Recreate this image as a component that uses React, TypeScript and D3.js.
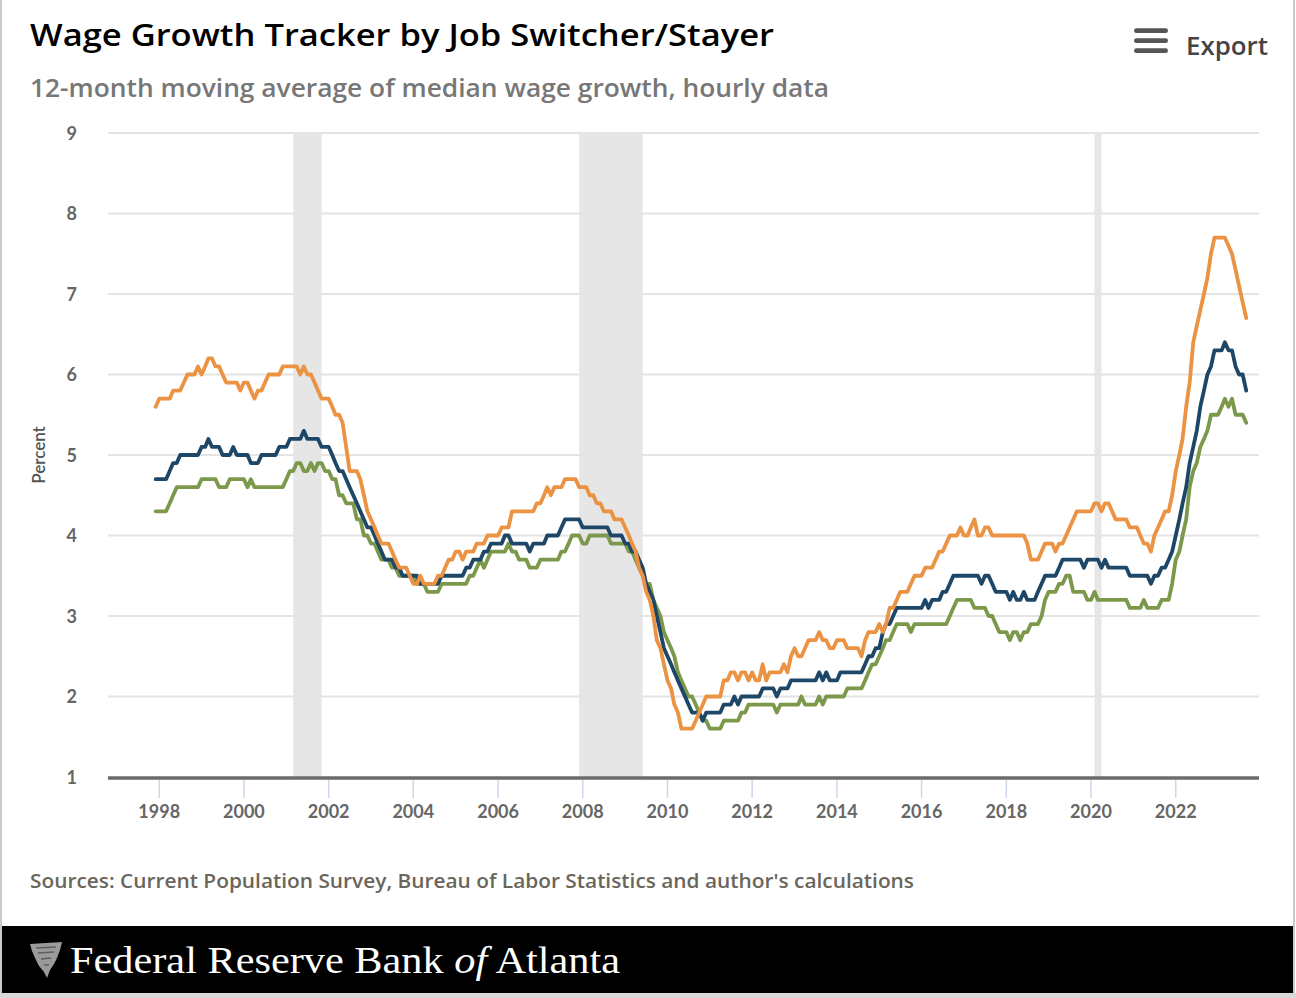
import React from "react";
import * as d3 from "d3";

// Monthly series, first value = Dec 1997, last = Sep 2023
const switchers: number[] = [
  5.6,
  5.7,5.7,5.7,5.7,5.8,5.8,5.8,5.9,6.0,6.0,6.0,6.1,
  6.0,6.1,6.2,6.2,6.1,6.1,6.0,5.9,5.9,5.9,5.9,5.8,
  5.9,5.9,5.8,5.7,5.8,5.8,5.9,6.0,6.0,6.0,6.0,6.1,
  6.1,6.1,6.1,6.1,6.0,6.1,6.0,6.0,5.9,5.8,5.7,5.7,
  5.7,5.6,5.5,5.5,5.4,5.1,4.8,4.8,4.8,4.7,4.5,4.3,
  4.2,4.1,4.0,3.9,3.9,3.9,3.8,3.7,3.6,3.6,3.6,3.5,
  3.4,3.4,3.5,3.4,3.4,3.4,3.4,3.5,3.5,3.6,3.7,3.7,
  3.8,3.8,3.7,3.8,3.8,3.8,3.9,3.9,3.9,4.0,4.0,4.0,
  4.0,4.1,4.1,4.1,4.3,4.3,4.3,4.3,4.3,4.3,4.3,4.4,
  4.4,4.5,4.6,4.5,4.6,4.6,4.6,4.7,4.7,4.7,4.7,4.6,
  4.6,4.6,4.5,4.5,4.4,4.4,4.3,4.3,4.3,4.2,4.2,4.2,
  4.1,4.0,3.9,3.8,3.6,3.5,3.3,3.2,3.0,2.7,2.6,2.4,
  2.2,2.1,1.9,1.8,1.6,1.6,1.6,1.6,1.7,1.8,1.9,2.0,
  2.0,2.0,2.0,2.0,2.2,2.2,2.3,2.3,2.2,2.3,2.3,2.2,
  2.3,2.2,2.2,2.4,2.2,2.3,2.3,2.3,2.3,2.4,2.3,2.5,
  2.6,2.5,2.5,2.6,2.7,2.7,2.7,2.8,2.7,2.7,2.6,2.6,
  2.7,2.7,2.7,2.6,2.6,2.6,2.6,2.5,2.7,2.8,2.8,2.8,
  2.9,2.8,2.9,3.1,3.1,3.2,3.3,3.3,3.3,3.4,3.5,3.5,
  3.5,3.6,3.6,3.6,3.7,3.8,3.8,3.9,4.0,4.0,4.0,4.1,
  4.0,4.0,4.1,4.2,4.0,4.0,4.1,4.1,4.0,4.0,4.0,4.0,
  4.0,4.0,4.0,4.0,4.0,4.0,3.9,3.7,3.7,3.7,3.8,3.9,
  3.9,3.9,3.8,3.9,3.9,4.0,4.1,4.2,4.3,4.3,4.3,4.3,
  4.3,4.4,4.4,4.3,4.4,4.4,4.3,4.2,4.2,4.2,4.2,4.1,
  4.1,4.1,4.0,3.9,3.9,3.8,4.0,4.1,4.2,4.3,4.3,4.5,
  4.8,5.0,5.2,5.6,5.9,6.4,6.6,6.8,7.0,7.2,7.5,7.7,
  7.7,7.7,7.7,7.6,7.5,7.3,7.1,6.9,6.7,
];

const overall: number[] = [
  4.7,
  4.7,4.7,4.7,4.8,4.9,4.9,5.0,5.0,5.0,5.0,5.0,5.0,
  5.1,5.1,5.2,5.1,5.1,5.1,5.0,5.0,5.0,5.1,5.0,5.0,
  5.0,5.0,4.9,4.9,4.9,5.0,5.0,5.0,5.0,5.0,5.1,5.1,
  5.1,5.2,5.2,5.2,5.2,5.3,5.2,5.2,5.2,5.2,5.1,5.1,
  5.1,5.0,4.9,4.8,4.8,4.7,4.6,4.5,4.4,4.3,4.2,4.1,
  4.1,4.0,3.9,3.8,3.7,3.7,3.7,3.6,3.6,3.5,3.5,3.5,
  3.5,3.5,3.4,3.4,3.4,3.4,3.4,3.4,3.5,3.5,3.5,3.5,
  3.5,3.5,3.5,3.6,3.6,3.7,3.7,3.7,3.8,3.8,3.9,3.9,
  3.9,3.9,4.0,4.0,3.9,3.9,3.9,3.9,3.9,3.8,3.9,3.9,
  3.9,3.9,4.0,4.0,4.0,4.0,4.1,4.2,4.2,4.2,4.2,4.2,
  4.1,4.1,4.1,4.1,4.1,4.1,4.1,4.1,4.0,4.0,4.0,4.0,
  3.9,3.9,3.8,3.8,3.7,3.6,3.4,3.3,3.2,3.0,2.8,2.6,
  2.5,2.4,2.3,2.2,2.1,2.0,1.9,1.8,1.8,1.8,1.7,1.8,
  1.8,1.8,1.8,1.8,1.9,1.9,1.9,2.0,1.9,2.0,2.0,2.0,
  2.0,2.0,2.0,2.1,2.1,2.1,2.1,2.0,2.1,2.1,2.1,2.2,
  2.2,2.2,2.2,2.2,2.2,2.2,2.2,2.3,2.2,2.3,2.2,2.2,
  2.2,2.3,2.3,2.3,2.3,2.3,2.3,2.3,2.4,2.5,2.5,2.6,
  2.6,2.8,2.9,2.9,3.0,3.1,3.1,3.1,3.1,3.1,3.1,3.1,
  3.1,3.2,3.1,3.2,3.2,3.2,3.3,3.3,3.4,3.5,3.5,3.5,
  3.5,3.5,3.5,3.5,3.5,3.4,3.5,3.5,3.4,3.3,3.3,3.3,
  3.3,3.2,3.3,3.2,3.2,3.3,3.2,3.2,3.2,3.3,3.4,3.5,
  3.5,3.5,3.5,3.6,3.7,3.7,3.7,3.7,3.7,3.7,3.6,3.7,
  3.7,3.7,3.7,3.6,3.7,3.6,3.6,3.6,3.6,3.6,3.6,3.5,
  3.5,3.5,3.5,3.5,3.5,3.4,3.5,3.5,3.6,3.6,3.7,3.8,
  4.0,4.2,4.4,4.6,4.9,5.1,5.3,5.6,5.8,6.0,6.1,6.3,
  6.3,6.3,6.4,6.3,6.3,6.1,6.0,6.0,5.8,
];

const stayers: number[] = [
  4.3,
  4.3,4.3,4.3,4.4,4.5,4.6,4.6,4.6,4.6,4.6,4.6,4.6,
  4.7,4.7,4.7,4.7,4.7,4.6,4.6,4.6,4.7,4.7,4.7,4.7,
  4.7,4.6,4.7,4.6,4.6,4.6,4.6,4.6,4.6,4.6,4.6,4.6,
  4.7,4.8,4.8,4.9,4.9,4.8,4.8,4.9,4.8,4.9,4.9,4.8,
  4.8,4.7,4.7,4.5,4.5,4.4,4.4,4.4,4.2,4.2,4.0,4.0,
  3.9,3.9,3.8,3.7,3.7,3.7,3.6,3.6,3.5,3.5,3.5,3.5,
  3.5,3.4,3.4,3.4,3.3,3.3,3.3,3.3,3.4,3.4,3.4,3.4,
  3.4,3.4,3.4,3.4,3.5,3.5,3.6,3.7,3.6,3.7,3.8,3.8,
  3.8,3.8,3.8,3.9,3.8,3.8,3.7,3.7,3.7,3.6,3.6,3.6,
  3.7,3.7,3.7,3.7,3.7,3.7,3.8,3.8,3.9,4.0,4.0,4.0,
  3.9,3.9,4.0,4.0,4.0,4.0,4.0,4.0,3.9,3.9,3.9,3.9,
  3.9,3.8,3.8,3.7,3.6,3.5,3.4,3.4,3.2,3.1,3.0,2.8,
  2.7,2.6,2.5,2.3,2.2,2.1,2.0,2.0,1.9,1.8,1.7,1.7,
  1.6,1.6,1.6,1.6,1.7,1.7,1.7,1.7,1.7,1.8,1.8,1.9,
  1.9,1.9,1.9,1.9,1.9,1.9,1.9,1.8,1.9,1.9,1.9,1.9,
  1.9,1.9,2.0,1.9,1.9,1.9,1.9,2.0,1.9,2.0,2.0,2.0,
  2.0,2.0,2.0,2.1,2.1,2.1,2.1,2.1,2.2,2.3,2.4,2.4,
  2.5,2.6,2.7,2.7,2.8,2.9,2.9,2.9,2.9,2.8,2.9,2.9,
  2.9,2.9,2.9,2.9,2.9,2.9,2.9,2.9,3.0,3.1,3.2,3.2,
  3.2,3.2,3.2,3.1,3.1,3.1,3.1,3.0,3.0,2.9,2.8,2.8,
  2.8,2.7,2.8,2.8,2.7,2.8,2.8,2.9,2.9,2.9,3.0,3.2,
  3.3,3.3,3.3,3.4,3.4,3.5,3.5,3.3,3.3,3.3,3.3,3.2,
  3.2,3.3,3.2,3.2,3.2,3.2,3.2,3.2,3.2,3.2,3.2,3.1,
  3.1,3.1,3.1,3.2,3.1,3.1,3.1,3.1,3.2,3.2,3.2,3.4,
  3.7,3.8,4.0,4.2,4.6,4.8,4.9,5.1,5.2,5.3,5.5,5.5,
  5.5,5.6,5.7,5.6,5.7,5.5,5.5,5.5,5.4,
];

const seriesStart = { year: 1997, month: 11 }; // Dec 1997
const yTicks = [1, 2, 3, 4, 5, 6, 7, 8, 9];
const xTickYears = [1998, 2000, 2002, 2004, 2006, 2008, 2010, 2012, 2014, 2016, 2018, 2020, 2022];
// recessions: [startYear, startMonth(0-based), endYear, endMonth]
const recessions: [number, number, number, number][] = [
  [2001, 2, 2001, 10],
  [2007, 11, 2009, 5],
  [2020, 1, 2020, 3],
];

const title = "Wage Growth Tracker by Job Switcher/Stayer";
const subtitle = "12-month moving average of median wage growth, hourly data";
const sourceText = "Sources: Current Population Survey, Bureau of Labor Statistics and author's calculations";
const yAxisTitle = "Percent";

const W = 1296;
const H = 998;
const L = 108, R = 1259, T = 133, B = 777;

const dateAt = (i: number) => new Date(Date.UTC(seriesStart.year, seriesStart.month + i, 1));

export default function App() {
  const x = d3
    .scaleUtc()
    .domain([new Date(Date.UTC(1996, 9, 16)), new Date(Date.UTC(2023, 11, 20))])
    .range([L, R]);
  const y = d3.scaleLinear().domain([1, 9]).range([B, T]);
  const line = d3
    .line<number>()
    .x((_, i) => x(dateAt(i)))
    .y((v) => y(v));

  const series = [
    { data: stayers, color: "#7b984b" },
    { data: overall, color: "#1e4767" },
    { data: switchers, color: "#eb9243" },
  ];

  const labelFont = "Lato, 'Open Sans', sans-serif";
  const headFont = "'Open Sans', 'Noto Sans', sans-serif";

  return (
    <svg
      width={W}
      height={H}
      style={{ position: "absolute", left: 0, top: 0, display: "block", background: "#fff" }}
    >
      {/* frame */}
      <rect x={0} y={0} width={W} height={H} fill="#fff" />
      <line x1={1} y1={0} x2={1} y2={H} stroke="#c9c9c9" strokeWidth={2} />
      <line x1={1294} y1={0} x2={1294} y2={H} stroke="#c9c9c9" strokeWidth={2} />

      {/* titles */}
      <text x={30} y={46} fontFamily={headFont} fontWeight={600} fontSize={31} fill="#000"
        textLength={744} lengthAdjust="spacingAndGlyphs">{title}</text>
      <text x={30} y={97} fontFamily={headFont} fontWeight={600} fontSize={25} fill="#777"
        textLength={799} lengthAdjust="spacingAndGlyphs">{subtitle}</text>

      {/* export button */}
      <g fill="#555">
        {[30.7, 40.7, 50.7].map((cy) => (
          <rect key={cy} x={1134} y={cy - 2.4} width={34} height={4.8} rx={2.4} />
        ))}
      </g>
      <text x={1186} y={55} fontFamily={headFont} fontWeight={600} fontSize={26} fill="#444"
        textLength={82} lengthAdjust="spacingAndGlyphs">Export</text>

      {/* recession bands */}
      {recessions.map(([y0, m0, y1, m1]) => {
        const a = x(new Date(Date.UTC(y0, m0, 1)));
        const b = x(new Date(Date.UTC(y1, m1, 1)));
        return <rect key={y0} x={a} y={T} width={b - a} height={B - T} fill="#e6e6e6" />;
      })}

      {/* gridlines */}
      {yTicks.filter((t) => t > 1).map((t) => (
        <line key={t} x1={L} x2={R} y1={y(t)} y2={y(t)} stroke="#e4e4e4" strokeWidth={2} />
      ))}

      {/* y labels */}
      {yTicks.map((t) => (
        <text key={t} x={77} y={y(t) + 6.5} textAnchor="end" fontFamily={labelFont} fontWeight={700}
          fontSize={18} fill="#666">{t}</text>
      ))}
      <text transform={`translate(45,455) rotate(-90)`} textAnchor="middle" fontFamily={labelFont}
        fontWeight={600} fontSize={17} fill="#555">{yAxisTitle}</text>

      {/* lines */}
      {series.map((s, k) => (
        <path key={k} d={line(s.data) || ""} fill="none" stroke={s.color} strokeWidth={3.8}
          strokeLinejoin="round" strokeLinecap="round" />
      ))}

      {/* x axis */}
      <line x1={L} x2={R} y1={778} y2={778} stroke="#6b6b6b" strokeWidth={3.5} />
      {xTickYears.map((yr) => {
        const px = x(new Date(Date.UTC(yr, 0, 1)));
        return (
          <g key={yr}>
            <line x1={px} x2={px} y1={780} y2={798} stroke="#ccd6eb" strokeWidth={1.5} />
            <text x={px} y={818} textAnchor="middle" fontFamily={labelFont} fontWeight={700}
              fontSize={18} fill="#666">{yr}</text>
          </g>
        );
      })}

      {/* sources */}
      <text x={30} y={888} fontFamily={headFont} fontWeight={600} fontSize={20} fill="#6a665c"
        textLength={884} lengthAdjust="spacingAndGlyphs">{sourceText}</text>

      {/* footer */}
      <rect x={2} y={926} width={1291} height={67} fill="#000" />
      <rect x={0} y={993} width={W} height={5} fill="#d9d9d9" />
      <g transform="translate(30,942)">
        <path d="M0,2 L32,0 L30,8 L27,16 L24,22 L20,28 L17,36 L14,30 L9,24 L5,16 L2,9 Z" fill="#9a9a9a" />
        <path d="M6,6 L26,5 M8,11 L24,10 M11,17 L21,16 M14,23 L19,23" stroke="#5e5e5e" strokeWidth={1.5} />
      </g>
      <text x={70} y={973} fontFamily="'Liberation Serif', 'DejaVu Serif', serif" fontSize={38} fill="#fff"
        textLength={550} lengthAdjust="spacingAndGlyphs">
        Federal Reserve Bank <tspan fontStyle="italic">of</tspan> Atlanta
      </text>
    </svg>
  );
}
